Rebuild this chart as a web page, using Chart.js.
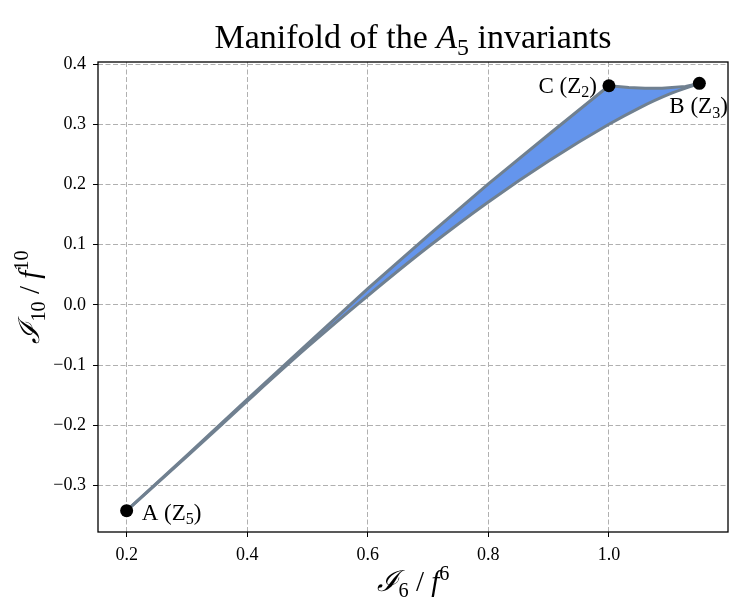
<!DOCTYPE html>
<html>
<head>
<meta charset="utf-8">
<script src="https://cdn.jsdelivr.net/npm/chart.js@4/dist/chart.umd.min.js"></script>
<style>
  html, body { margin: 0; padding: 0; background: #ffffff; }
  #wrap { position: relative; width: 729px; height: 606px; }
</style>
</head>
<body>
<div id="wrap"><canvas id="c" width="729" height="606"></canvas></div>
<script>
// ---- data ----
const upperX = [0.2, 0.3, 0.4, 0.5, 0.6, 0.7, 0.8, 0.9, 1.0, 1.033, 1.06, 1.088, 1.127, 1.15];
const upperY = [-0.342, -0.250, -0.157, -0.065, 0.027, 0.115, 0.201, 0.283, 0.364, 0.361, 0.360, 0.360, 0.363, 0.368];
const lowerX = [0.2, 0.3, 0.4, 0.5, 0.6, 0.7, 0.8, 0.9, 1.0, 1.05, 1.1, 1.15];
const lowerY = [-0.342, -0.252, -0.160, -0.070, 0.015, 0.096, 0.171, 0.239, 0.300, 0.327, 0.350, 0.368];
const pointNames = ['A', 'C', 'B'];
const pointSubs = ['5', '2', '3'];
const pointX = [0.2, 1.0, 1.15];
const pointY = [-0.342, 0.364, 0.368];
const xTicks = [0.2, 0.4, 0.6, 0.8, 1.0];
const yTicks = [-0.3, -0.2, -0.1, 0.0, 0.1, 0.2, 0.3, 0.4];
const xRange = [0.1525, 1.1975];
const yRange = [-0.3775, 0.4035];

const SERIF = "'Liberation Serif', 'DejaVu Serif', serif";

function zip(xs, ys) { return xs.map((x, i) => ({ x: x, y: ys[i] })); }

// draw rich text: segs = [{t, it, sub, sup}]
function richWidth(ctx, segs, size) {
  let w = 0;
  for (const s of segs) {
    const sz = (s.sub || s.sup) ? size * 0.7 : size;
    ctx.font = (s.it ? 'italic ' : '') + sz + 'px ' + (s.fam || SERIF);
    w += ctx.measureText(s.t).width;
  }
  return w;
}
function drawRich(ctx, segs, x, y, size, align) {
  const w = richWidth(ctx, segs, size);
  let cx = x;
  if (align === 'center') cx = x - w / 2;
  else if (align === 'right') cx = x - w;
  ctx.textAlign = 'left';
  ctx.textBaseline = 'alphabetic';
  for (const s of segs) {
    const sz = (s.sub || s.sup) ? size * 0.7 : size;
    ctx.font = (s.it ? 'italic ' : '') + sz + 'px ' + (s.fam || SERIF);
    let dy = 0;
    if (s.sub) dy = size * 0.2;
    if (s.sup) dy = -size * 0.38;
    ctx.fillText(s.t, cx, y + dy);
    cx += ctx.measureText(s.t).width;
  }
}

const textPlugin = {
  id: 'textPlugin',
  afterDraw(chart) {
    const ctx = chart.ctx;
    const a = chart.chartArea;
    ctx.save();
    // frame
    ctx.strokeStyle = '#000';
    ctx.lineWidth = 1.3;
    ctx.setLineDash([]);
    ctx.strokeRect(a.left, a.top, a.right - a.left, a.bottom - a.top);
    ctx.fillStyle = '#000';
    const cxm = (a.left + a.right) / 2;
    const cym = (a.top + a.bottom) / 2;
    // title
    drawRich(ctx, [
      { t: 'Manifold of the ' },
      { t: 'A', it: true },
      { t: '5', sub: true },
      { t: ' invariants' }
    ], cxm, 48, 34, 'center');
    // x axis label
    drawRich(ctx, [
      { t: 'ℐ', it: true, fam: "'DejaVu Serif', serif" },
      { t: '6', sub: true },
      { t: ' / ' },
      { t: 'f', it: true },
      { t: '6', sup: true }
    ], cxm, 591, 29, 'center');
    // y axis label
    ctx.save();
    ctx.translate(39, cym);
    ctx.rotate(-Math.PI / 2);
    drawRich(ctx, [
      { t: 'ℐ', it: true, fam: "'DejaVu Serif', serif" },
      { t: '10', sub: true },
      { t: ' / ' },
      { t: 'f', it: true },
      { t: '10', sup: true }
    ], 0, 0, 29, 'center');
    ctx.restore();
    // point labels
    const xs = chart.scales.x, ys = chart.scales.y;
    for (let i = 0; i < pointNames.length; i++) {
      const px = xs.getPixelForValue(pointX[i]);
      const py = ys.getPixelForValue(pointY[i]);
      const segs = [{ t: pointNames[i] + ' (Z' }, { t: pointSubs[i], sub: true }, { t: ')' }];
      if (pointNames[i] === 'A') drawRich(ctx, segs, px + 15, py + 9, 23, 'left');
      else if (pointNames[i] === 'C') drawRich(ctx, segs, px - 12, py + 7, 23, 'right');
      else drawRich(ctx, segs, px - 30, py + 30, 23, 'left');
    }
    ctx.restore();
  }
};

function fmt(v) {
  const s = Math.abs(v).toFixed(1);
  return (v < -1e-9 ? '\u2212' : '') + s;
}

const gridOpts = {
  color: '#b0b0b0',
  lineWidth: 1,
  tickColor: '#000',
  tickBorderDash: [],
  tickWidth: 1,
  tickLength: 5,
  drawTicks: true
};
const borderOpts = { display: false, dash: [5, 2.5] };

new Chart(document.getElementById('c'), {
  type: 'scatter',
  data: {
    datasets: [
      {
        data: zip(upperX, upperY),
        showLine: true,
        borderColor: '#708090',
        borderWidth: 3,
        borderJoinStyle: 'round',
        backgroundColor: '#6495ED',
        fill: '+1',
        pointRadius: 0,
        tension: 0,
        order: 2
      },
      {
        data: zip(lowerX, lowerY),
        showLine: true,
        borderColor: '#708090',
        borderWidth: 3,
        borderJoinStyle: 'round',
        backgroundColor: '#6495ED',
        fill: false,
        pointRadius: 0,
        cubicInterpolationMode: 'monotone',
        order: 2
      },
      {
        data: zip(pointX, pointY),
        showLine: false,
        pointRadius: 6.5,
        pointBackgroundColor: '#000',
        pointBorderColor: '#000',
        pointBorderWidth: 0,
        order: 1
      }
    ]
  },
  options: {
    responsive: false,
    animation: false,
    devicePixelRatio: 1,
    layout: { autoPadding: false, padding: { left: 0, right: 1, top: 62, bottom: 0 } },
    plugins: {
      legend: { display: false },
      tooltip: { enabled: false },
      title: { display: false },
      filler: { drawTime: 'beforeDatasetsDraw' }
    },
    scales: {
      x: {
        type: 'linear',
        min: xRange[0],
        max: xRange[1],
        grid: gridOpts,
        border: borderOpts,
        afterBuildTicks(s) { s.ticks = xTicks.map(v => ({ value: v })); },
        afterFit(s) { s.height = 74; s.paddingLeft = 0; s.paddingRight = 0; },
        ticks: {
          color: '#000',
          font: { family: SERIF, size: 18 },
          padding: 7,
          maxRotation: 0,
          callback: v => fmt(v)
        }
      },
      y: {
        type: 'linear',
        min: yRange[0],
        max: yRange[1],
        grid: gridOpts,
        border: borderOpts,
        afterBuildTicks(s) { s.ticks = yTicks.map(v => ({ value: v })); },
        afterFit(s) { s.width = 98; s.paddingTop = 0; s.paddingBottom = 0; },
        ticks: {
          color: '#000',
          font: { family: SERIF, size: 18 },
          padding: 7,
          callback: v => fmt(v)
        }
      }
    }
  },
  plugins: [textPlugin]
});
</script>
</body>
</html>
